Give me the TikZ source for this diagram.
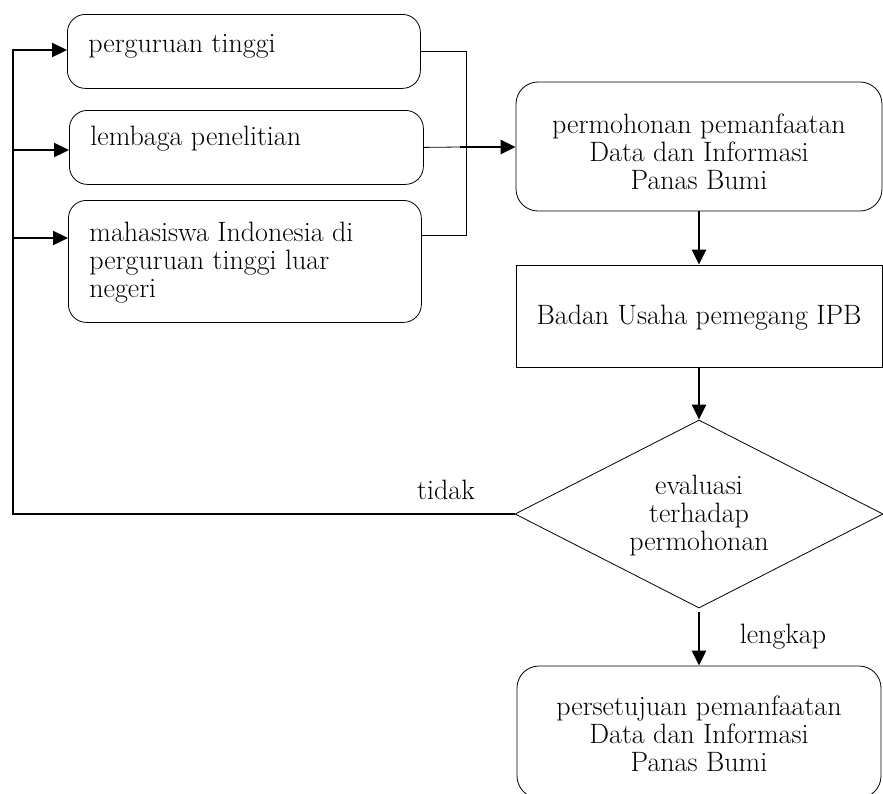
\documentclass[tikz,border=0pt]{standalone}
\usetikzlibrary{arrows.meta,shapes.geometric}
\begin{document}
\begin{tikzpicture}[x=1pt,y=-1pt,
  font=\fontsize{28}{28}\selectfont,
  lbox/.style={draw,line width=0.8pt,rounded corners=18pt,anchor=north west,inner xsep=21pt,inner ysep=10pt},
  rbox/.style={draw,line width=0.8pt,align=center,inner sep=0pt},
  thinline/.style={line width=0.8pt},
  flow/.style={line width=2.4pt,-{Triangle[length=15pt,width=14pt]}},
  ]
\useasboundingbox (0,0) rectangle (883,793);

% left boxes
\node[lbox] (b1) at (67,14) {\parbox[t][54pt][t]{311pt}{\vspace*{10pt}\raggedright perguruan tinggi}};
\node[lbox] (b2) at (69,110) {\parbox[t][54pt][t]{312pt}{\vspace*{6pt}\raggedright lembaga penelitian}};
\node[lbox] (b3) at (68,200) {\parbox[t][102pt][t]{311pt}{\vspace*{12pt}\raggedright mahasiswa Indonesia di\\ perguruan tinggi luar\\ negeri}};

% right column
\node[rbox,rounded corners=22pt,minimum width=366pt,minimum height=129pt] (b4) at (699,146.5)
  {\rule{0pt}{29.4pt}permohonan pemanfaatan\\ Data dan Informasi\\ Panas Bumi};
\node[rbox,minimum width=366pt,minimum height=102pt] (b5) at (699,316)
  {\rule{0pt}{23pt}Badan Usaha pemegang IPB};
\node[rbox,diamond,aspect=1.96,minimum width=368pt,minimum height=188pt] (d) at (699,514)
  {\rule{0pt}{23pt}evaluasi\\ terhadap\\ permohonan};
\node[rbox,rounded corners=22pt,minimum width=364pt,minimum height=132pt] (b6) at (699,732)
  {\rule{0pt}{23.4pt}persetujuan pemanfaatan\\ Data dan Informasi\\ Panas Bumi};

% labels
\node (tidak) at (446,490) {tidak};
\node (lengkap) at (783,637) {lengkap};

% bracket joining left boxes
\coordinate (j1) at (466,49);
\coordinate (j3) at (466,235);
\coordinate (j2) at (460,147);
\draw[thinline] (b1.east) -- (b1.east -| j1) -- (j3) -- (b3.east |- j3);
\draw[thinline] (b2.east) -- (j2);
\draw[flow] (j2) -- (j2 -| b4.west);

% right column flow
\draw[flow] (b4.south) -- (b5.north);
\draw[flow] (b5.south) -- (d.north);
\draw[flow,shorten <=4pt] (d.south) -- (b6.north);

% feedback loop on the left
\coordinate (L0) at (13,50);
\coordinate (L1) at (13,150);
\coordinate (L2) at (13,238);
\coordinate (L3) at (13,514);
\draw[flow] (d.west) -- (L3) -- (L0) -- (L0 -| b1.west);
\draw[flow] (L1) -- (L1 -| b2.west);
\draw[flow] (L2) -- (L2 -| b3.west);
\end{tikzpicture}
\end{document}
